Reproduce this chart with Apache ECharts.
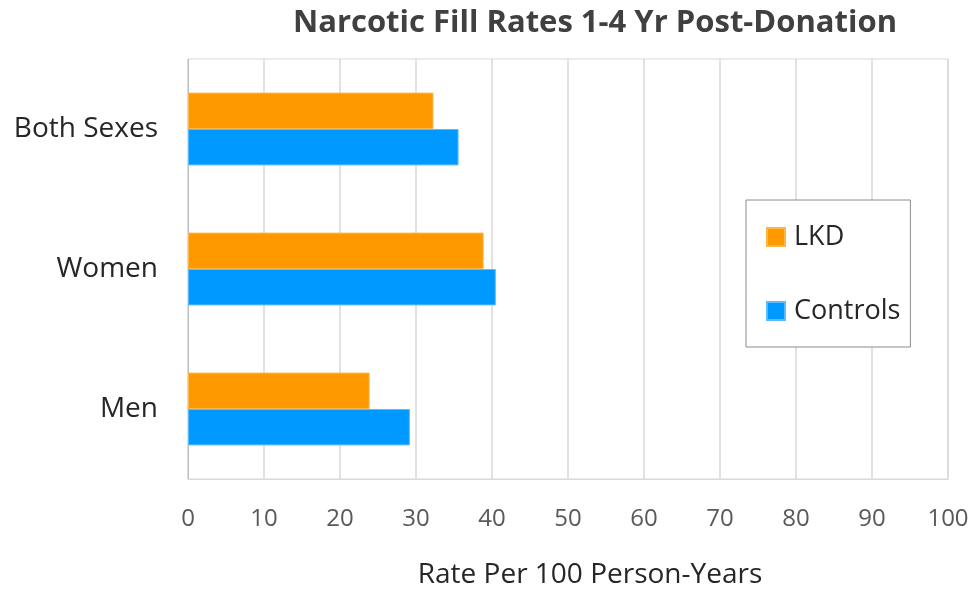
<!DOCTYPE html>
<html>
<head>
<meta charset="utf-8">
<script src="https://cdn.jsdelivr.net/npm/echarts@6/dist/echarts.min.js"></script>
<style>
  html, body { margin: 0; padding: 0; background: #fff; }
  #chart { width: 978px; height: 590px; }
</style>
</head>
<body>
<div id="chart"></div>
<script>
// Narcotic fill rates per 100 person-years, 1-4 years after donation
const groups = ['Both Sexes', 'Women', 'Men'];
const lkdRates = [32.3, 38.9, 23.9];
const controlRates = [35.6, 40.5, 29.2];
const xTicks = [0, 10, 20, 30, 40, 50, 60, 70, 80, 90, 100];

const fontFamily = '"Open Sans", "Noto Sans", sans-serif';

const chart = echarts.init(document.getElementById('chart'));
chart.setOption({
  animation: false,
  backgroundColor: '#ffffff',
  title: {
    text: 'Narcotic Fill Rates 1-4 Yr Post-Donation',
    left: 590,
    textAlign: 'center',
    top: 3,
    textStyle: { fontFamily, fontSize: 31, fontWeight: 'bold', color: '#404040' }
  },
  legend: {
    orient: 'vertical',
    left: 746,
    top: 200,
    padding: [23, 10, 22, 20],
    itemWidth: 18,
    itemHeight: 18,
    itemGap: 46,
    icon: 'rect',
    borderColor: '#8c8c8c',
    borderWidth: 1,
    backgroundColor: '#ffffff',
    textStyle: { fontFamily, fontSize: 27, lineHeight: 28, color: '#262626', padding: [0, 0, 0, 4] },
    data: ['LKD', 'Controls']
  },
  grid: {
    left: 188, right: 30, top: 59, bottom: 111,
    outerBoundsMode: 'none',
    show: true, borderColor: '#d9d9d9', borderWidth: 1
  },
  xAxis: {
    type: 'value',
    min: xTicks[0],
    max: xTicks[xTicks.length - 1],
    interval: 10,
    name: 'Rate Per 100 Person-Years',
    nameLocation: 'middle',
    nameGap: 82,
    nameTextStyle: { fontFamily, fontSize: 28, color: '#262626', padding: [0, 0, 0, 44] },
    axisLine: { show: true, lineStyle: { color: '#d9d9d9' } },
    axisTick: { show: false },
    axisLabel: { fontFamily, fontSize: 24, color: '#595959', margin: 28 },
    splitLine: { show: true, lineStyle: { color: '#d9d9d9', width: 1.5 } }
  },
  yAxis: {
    type: 'category',
    data: groups,
    inverse: true,
    axisLine: { show: true, lineStyle: { color: '#bfbfbf' } },
    axisTick: { show: false },
    axisLabel: { fontFamily, fontSize: 28, color: '#262626', margin: 30 }
  },
  series: [
    {
      name: 'LKD',
      type: 'bar',
      data: lkdRates,
      barCategoryGap: '48%',
      barGap: '0%',
      itemStyle: { color: '#FF9900', borderColor: '#FFB54A', borderWidth: 1 }
    },
    {
      name: 'Controls',
      type: 'bar',
      data: controlRates,
      barCategoryGap: '48%',
      barGap: '0%',
      itemStyle: { color: '#0099FF', borderColor: '#5BBDFF', borderWidth: 1 }
    }
  ]
});
</script>
</body>
</html>
